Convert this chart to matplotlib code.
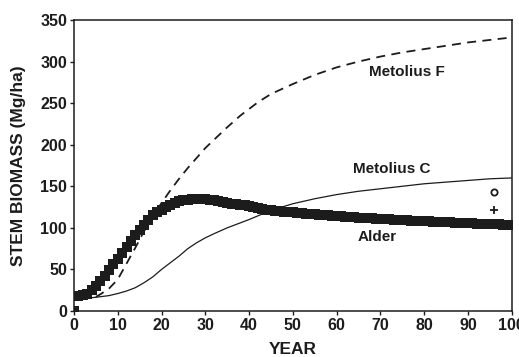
import numpy as np
import matplotlib
matplotlib.use("Agg")
import matplotlib.pyplot as plt

plt.rcParams['font.family'] = ['Liberation Sans', 'DejaVu Sans']
plt.rcParams['font.weight'] = 'bold'

# Alder: one marker per year, 0..100
alder_years = list(range(0, 101))
alder_biomass = [
    0, 18, 19, 21, 25, 30, 36, 42, 49, 56,
    63, 70, 77, 84, 91, 98, 104, 110, 115, 119,
    122, 125, 128, 130, 132, 133, 134, 135, 135, 135,
    135, 134, 133, 132, 131, 130, 129, 128.5, 127.5, 127,
    126, 125, 124, 123, 122, 121, 120.5, 120, 119.5, 119,
    118.5, 118, 117.5, 117, 117, 116.5, 116, 115.5, 115, 114.5,
    114, 113.7, 113.3, 113, 112.6, 112.3, 112, 111.7, 111.3, 111,
    110.7, 110.4, 110.1, 109.8, 109.5, 109.2, 109, 108.7, 108.4, 108.2,
    108, 107.7, 107.4, 107.2, 107, 106.7, 106.5, 106.2, 106, 105.8,
    105.6, 105.4, 105.2, 105, 104.8, 104.6, 104.4, 104.2, 104, 103.8,
    103.6,
]

# Metolius C (solid line)
metc_years = [1, 3, 5, 8, 10, 12, 14, 16, 18, 20, 22, 24, 26, 28, 30, 32, 35,
              40, 45, 50, 55, 60, 65, 70, 75, 80, 85, 90, 95, 100]
metc_biomass = [15, 15.5, 16.5, 18.5, 21, 24, 28, 34, 41, 50, 58, 66, 75, 82,
                88, 93, 100, 110, 121, 129, 135, 140, 144, 147, 150, 153,
                155, 157, 159, 160]

# Metolius F (dashed line)
metf_years = [5, 6, 8, 10, 12, 14, 16, 18, 20, 22, 24, 26, 28, 30, 32, 35, 38,
              40, 42, 45, 50, 55, 60, 65, 70, 75, 80, 85, 90, 95, 100]
metf_biomass = [17, 20, 27, 38, 57, 76, 96, 113, 130, 145, 159, 172, 184, 196,
                206, 221, 235, 243, 251, 261, 273, 284, 293, 300, 306, 311,
                315, 319, 323, 326, 329]

# observed points near year 96
obs_circle = (96, 143.5)
obs_plus = (96, 122)

ink = '#1c1c1c'

fig = plt.figure(figsize=(5.19, 3.57), dpi=100)
ax = fig.add_axes([0.1426, 0.1289, 0.8434, 0.8151])

ax.plot(metc_years, metc_biomass, color=ink, lw=0.9)
ax.plot(metf_years, metf_biomass, color=ink, lw=1.3, dashes=(5, 3.5))
ax.plot(alder_years, alder_biomass, ls='none', marker='s', ms=7,
        mfc=ink, mec=ink, mew=0)
ax.plot(*obs_circle, marker='o', ms=4.5, mfc='none', mec=ink, mew=1.3)
ax.plot(*obs_plus, marker='+', ms=6, mec=ink, mew=1.3)

ax.text(76.1, 287.6, 'Metolius F', ha='center', va='center', fontsize=11,
        fontweight='bold', color=ink)
ax.text(72.7, 170.9, 'Metolius C', ha='center', va='center', fontsize=11,
        fontweight='bold', color=ink)
ax.text(69.2, 88.4, 'Alder', ha='center', va='center', fontsize=11,
        fontweight='bold', color=ink)

ax.set_xlim(0, 100)
ax.set_ylim(0, 350)
ax.set_xticks(range(0, 101, 10))
ax.set_yticks(range(0, 351, 50))
ax.tick_params(direction='out', length=3, width=1, colors=ink,
               labelsize=11.5, pad=2)
for lab in ax.get_xticklabels() + ax.get_yticklabels():
    lab.set_fontweight('bold')
for sp in ax.spines.values():
    sp.set_color(ink)
    sp.set_linewidth(1.1)

ax.set_xlabel('YEAR', fontsize=12.5, fontweight='bold', color=ink)
ax.set_ylabel('STEM BIOMASS (Mg/ha)', fontsize=12.5, fontweight='bold', color=ink)
ax.xaxis.set_label_coords(0.5, -0.108)
ax.yaxis.set_label_coords(-0.11, 0.5)

fig.savefig('out.png', dpi=100)
